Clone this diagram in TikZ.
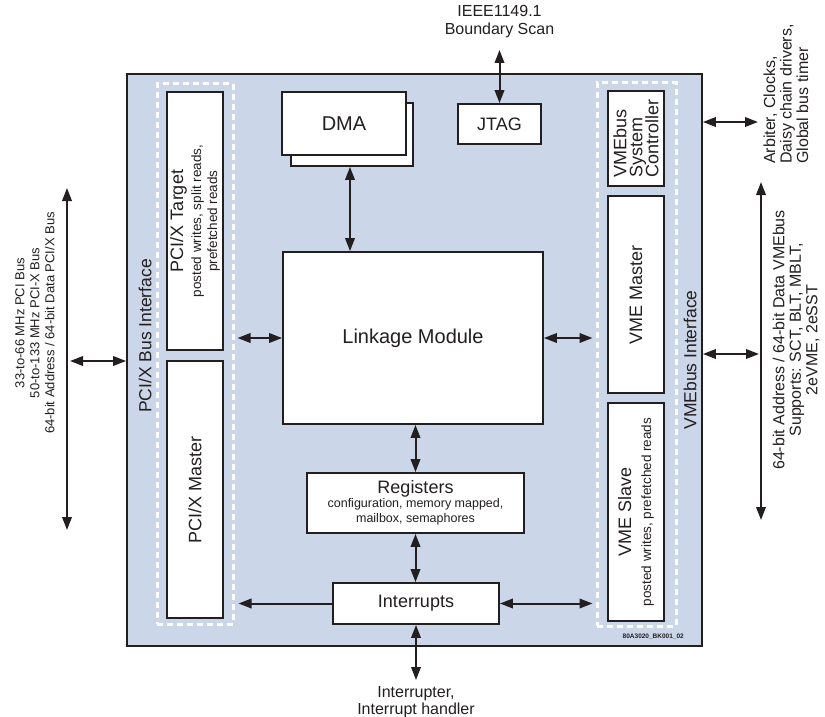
\documentclass[tikz,border=0pt]{standalone}
\usepackage{fontspec}
\setmainfont{Liberation Sans}
\usetikzlibrary{arrows.meta,calc}
\definecolor{panel}{RGB}{203,214,232}
\definecolor{ink}{RGB}{35,31,32}
\newcommand{\fsz}[2]{\fontsize{#1}{#2}\selectfont\lineskiplimit=-20pt}

\begin{document}
\begin{tikzpicture}[x=1pt,y=-1pt,
  box/.style={draw=ink, line width=1.8pt, fill=white, inner sep=0pt, text=ink, align=center},
  dashframe/.style={draw=white, line width=3pt, dash pattern=on 6pt off 4pt, inner sep=0pt},
  arr/.style={draw=ink, line width=2pt, {Triangle[length=13pt,width=9.5pt]}-{Triangle[length=13pt,width=9.5pt]}},
  arrl/.style={draw=ink, line width=2pt, {Triangle[length=13pt,width=9.5pt]}-},
  lbl/.style={text=ink, inner sep=0pt, align=center},
]
\useasboundingbox (0,0) rectangle (825,717);
\fill[white] (0,0) rectangle (825,717);

% main panel
\node[box, fill=panel, minimum width=575pt, minimum height=572pt] (main) at (414.5,360) {};

% dashed interface frames
\node[dashframe, minimum width=76pt, minimum height=540pt] (pcidash) at (195,354) {};
\node[dashframe, minimum width=79pt, minimum height=543pt] (vmedash) at (636.5,354.5) {};

% interface labels
\node[lbl, rotate=90, font=\fsz{17.5}{20}] (pciif) at (145,336) {PCI/X Bus Interface};
\node[lbl, rotate=90, font=\fsz{17.5}{20}] (vmeif) at (690,360) {VMEbus Interface};

% PCI side boxes
\node[box, rotate=90, minimum width=258pt, minimum height=56pt, font=\fsz{13.5}{16}] (pcitarget) at (195,221)
  {{\fsz{18}{20}PCI/X Target}\\[2pt]posted writes, split reads,\\prefetched reads};
\node[box, rotate=90, minimum width=257pt, minimum height=56pt, font=\fsz{18}{20}] (pcimaster) at (195,489.5)
  {PCI/X Master};

% VME side boxes
\node[box, rotate=90, minimum width=95pt, minimum height=56pt, align=left, font=\fsz{18}{16}] (vmesc) at (636,138.5)
  {VMEbus\\System\\Controller};
\node[box, rotate=90, minimum width=197pt, minimum height=56pt, font=\fsz{18}{20}] (vmemaster) at (636,294.5)
  {VME Master};
\node[box, rotate=90, minimum width=218pt, minimum height=56pt, font=\fsz{13.5}{16}] (vmeslave) at (636,512)
  {{\fsz{18}{20}VME Slave}\\[4pt]posted writes, prefetched reads};

% centre boxes
\node[box, minimum width=122pt, minimum height=63pt] (dmaback) at (352,134.5) {};
\node[box, minimum width=124pt, minimum height=63pt, font=\fsz{20}{24}] (dma) at (344,123.5) {DMA};
\node[box, minimum width=83pt, minimum height=40pt, font=\fsz{18}{20}] (jtag) at (499.5,124) {JTAG};
\node[box, minimum width=260pt, minimum height=172pt, font=\fsz{20}{24}] (link) at (413,338) {Linkage Module};
\node[box, minimum width=217pt, minimum height=60pt, font=\fsz{12.5}{15}] (regs) at (415.5,503)
  {{\fsz{18}{20}Registers}\\[-1pt]configuration, memory mapped,\\mailbox, semaphores};
\node[box, minimum width=166pt, minimum height=41pt, font=\fsz{18}{20}] (intr) at (416,603.5) {Interrupts};

% internal connectors
\coordinate (dmax) at (350,0);
\draw[arr] (dmaback.south -| dmax) -- (link.north -| dmax);
\draw[arr, shorten <=3pt] (pcidash.east |- link.west) -- (link.west);
\draw[arr, shorten >=3pt] (link.east) -- (vmedash.west |- link.east);
\draw[arr] (regs.north |- link.south) -- (regs.north);
\draw[arr] (regs.south) -- (regs.south |- intr.north);
\draw[arrl, shorten <=4pt] (pcidash.east |- intr.west) -- (intr.west);
\draw[arr, shorten >=3pt] (intr.east) -- (vmedash.west |- intr.east);

% JTAG external
\coordinate (jtagtop) at (499.5,50);
\draw[arr] (jtag.north) -- (jtagtop);
\node[lbl, font=\fsz{16}{18}] (ieee) at (499.5,22) {IEEE1149.1\\Boundary Scan};

% Interrupts external
\coordinate (intbot) at (416,680);
\draw[arr] (intr.south) -- (intbot);
\node[lbl, font=\fsz{16}{16.5}] (intlbl) at (416,702) {Interrupter,\\Interrupt handler};

% PCI bus
\coordinate (pcitop) at (67,188);
\coordinate (pcibot) at (67,530);
\draw[arr] (pcitop) -- (pcibot);
\coordinate (pcitap) at (70,361);
\draw[arr] (pcitap) -- (main.west |- pcitap);
\node[lbl, rotate=90, font=\fsz{13}{15}] (pcibuslbl) at (35,323)
  {33-to-66 MHz PCI Bus\\50-to-133 MHz PCI-X Bus\\64-bit Address / 64-bit Data PCI/X Bus};

% VME bus
\coordinate (vmetop) at (761,182);
\coordinate (vmebot) at (761,520);
\draw[arr] (vmetop) -- (vmebot);
\coordinate (vmetap) at (759,354);
\draw[arr] (main.east |- vmetap) -- (vmetap);
\node[lbl, rotate=90, font=\fsz{16}{16.5}] (vmebuslbl) at (796,340)
  {64-bit Address / 64-bit Data VMEbus\\Supports: SCT, BLT, MBLT,\\2eVME, 2eSST};

% Arbiter
\coordinate (arbtap) at (758,122);
\draw[arr] (main.east |- arbtap) -- (arbtap);
\node[lbl, rotate=90, align=left, anchor=west, font=\fsz{16}{16.5}] (arblbl) at (786,164)
  {Arbiter, Clocks,\\Daisy chain drivers,\\Global bus timer};

% figure code
\node[lbl, anchor=east, font=\fsz{6.5}{7}\bfseries] (figcode) at (684,637) {80A3020\_BK001\_02};
\end{tikzpicture}
\end{document}
